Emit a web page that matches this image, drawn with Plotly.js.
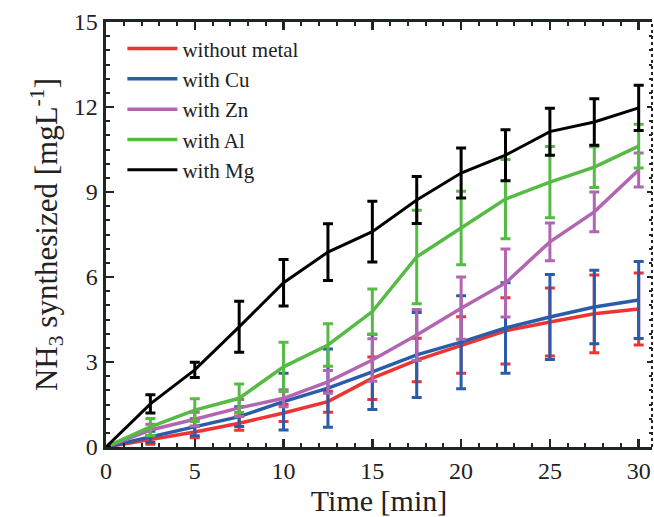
<!DOCTYPE html>
<html>
<head>
<meta charset="utf-8">
<script src="https://cdn.plot.ly/plotly-3.0.1.min.js"></script>
<style>html,body{margin:0;padding:0;background:#fff;}#chart{width:654px;height:517px;}</style>
</head>
<body>
<div id="chart"></div>
<script>
const time = [0, 2.5, 5, 7.5, 10, 12.5, 15, 17.5, 20, 22.5, 25, 27.5, 30];

const seriesNames = ["without metal", "with Cu", "with Zn", "with Al", "with Mg"];

const withoutMetal    = [0, 0.25, 0.53, 0.84, 1.2, 1.6, 2.43, 3.07, 3.6, 4.1, 4.41, 4.7, 4.87];
const withoutMetalErr = [0, 0.15, 0.2, 0.25, 0.3, 0.37, 0.75, 0.77, 1.0, 1.17, 1.2, 1.37, 1.27];

const withCu    = [0, 0.36, 0.7, 1.07, 1.6, 2.08, 2.65, 3.25, 3.7, 4.2, 4.59, 4.94, 5.19];
const withCuErr = [0, 0.2, 0.3, 0.35, 1.0, 1.38, 1.33, 1.5, 1.64, 1.6, 1.5, 1.3, 1.36];

const withZn    = [0, 0.6, 0.98, 1.38, 1.72, 2.3, 3.07, 3.95, 4.9, 5.79, 7.24, 8.3, 9.78];
const withZnErr = [0, 0.2, 0.25, 0.3, 0.3, 0.4, 0.75, 0.9, 1.1, 1.2, 0.67, 0.7, 0.6];

const withAl    = [0, 0.71, 1.3, 1.72, 2.83, 3.6, 4.78, 6.71, 7.73, 8.75, 9.35, 9.88, 10.62];
const withAlErr = [0, 0.3, 0.4, 0.5, 0.87, 0.75, 0.8, 1.65, 1.3, 1.4, 1.26, 0.72, 0.77];

const withMg    = [0, 1.52, 2.72, 4.24, 5.8, 6.88, 7.6, 8.72, 9.67, 10.3, 11.13, 11.47, 11.97];
const withMgErr = [0, 0.32, 0.27, 0.9, 0.82, 1.0, 1.07, 0.83, 0.88, 0.9, 0.83, 0.82, 0.8];

const values = [withoutMetal, withCu, withZn, withAl, withMg];
const errs = [withoutMetalErr, withCuErr, withZnErr, withAlErr, withMgErr];
const colors = ["#ee3333", "#2a5caa", "#b266b2", "#55bb44", "#000000"];
const widths = [3.5, 3.5, 3.5, 3.5, 3];

const traces = values.map((v, i) => ({
  type: "scatter",
  mode: "lines",
  x: time,
  y: v,
  name: seriesNames[i],
  line: {color: colors[i], width: widths[i]},
  error_y: {type: "data", array: errs[i], visible: true, color: colors[i], thickness: 3, width: 5},
  xaxis: "x", yaxis: "y"
}));

const FONT = "Liberation Serif, Times New Roman, serif";
const axisColor = "#1e2626";

const layout = {
  width: 654, height: 517,
  margin: {l: 106, r: 2, t: 22, b: 70},
  paper_bgcolor: "#fff", plot_bgcolor: "#fff",
  font: {family: FONT, color: "#222", size: 22},
  showlegend: true,
  legend: {
    x: 0.03, y: 0.985, xanchor: "left", yanchor: "top",
    bgcolor: "rgba(0,0,0,0)", borderwidth: 0,
    font: {family: FONT, size: 21, color: "#222"},
    itemwidth: 50, tracegroupgap: 0
  },
  xaxis: {
    range: [0, 30.75], showgrid: false, zeroline: false,
    showline: true, linecolor: axisColor, linewidth: 3, mirror: "ticks",
    ticks: "inside", ticklen: 8, tickwidth: 2.5, tickcolor: axisColor,
    tick0: 0, dtick: 5,
    minor: {dtick: 1, ticks: "inside", ticklen: 4, tickwidth: 2, tickcolor: axisColor, showgrid: false},
    tickfont: {family: FONT, size: 24, color: "#222"},
    title: {text: "Time [min]", font: {family: FONT, size: 30, color: "#222"}, standoff: 4}
  },
  yaxis: {
    range: [0, 15], showgrid: false, zeroline: false,
    showline: true, linecolor: axisColor, linewidth: 3.5, mirror: false,
    ticks: "inside", ticklen: 8, tickwidth: 2.5, tickcolor: axisColor,
    tick0: 0, dtick: 3,
    minor: {dtick: 0.5, ticks: "inside", ticklen: 4, tickwidth: 2, tickcolor: axisColor, showgrid: false},
    tickfont: {family: FONT, size: 24, color: "#222"},
    title: {text: "NH<sub>3</sub> synthesized [mgL<sup>-1</sup>]", font: {family: FONT, size: 31, color: "#222"}, standoff: 8}
  },
  yaxis2: {
    range: [0, 15], overlaying: "y", side: "right", showgrid: false, zeroline: false,
    showline: false, showticklabels: false,
    ticks: "inside", ticklen: 5, tickwidth: 2.5, tickcolor: axisColor,
    tick0: 0, dtick: 3,
    minor: {dtick: 0.5, ticks: "inside", ticklen: 3, tickwidth: 2, tickcolor: axisColor, showgrid: false}
  },
  shapes: [
    {type: "line", xref: "paper", yref: "paper", x0: 1, x1: 1, y0: 0, y1: 1,
     line: {color: axisColor, width: 2, dash: "dot"}}
  ]
};

// empty trace to activate yaxis2 (no visible marks)
traces.push({type: "scatter", mode: "lines", x: [], y: [], yaxis: "y2", showlegend: false, hoverinfo: "skip"});

Plotly.newPlot("chart", traces, layout, {displayModeBar: false, staticPlot: true});
</script>
</body>
</html>
